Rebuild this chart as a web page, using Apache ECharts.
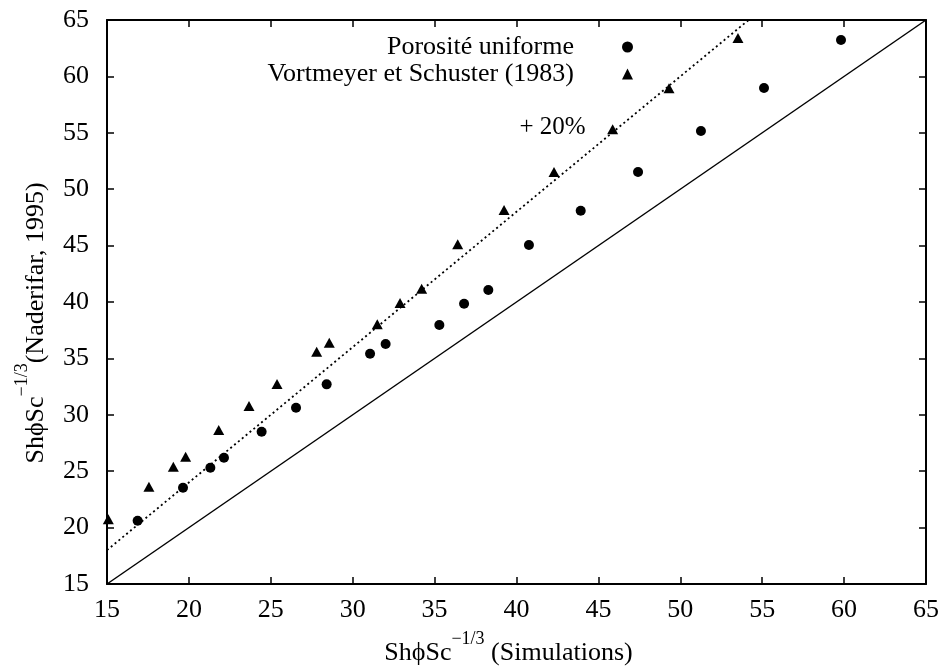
<!DOCTYPE html>
<html>
<head>
<meta charset="utf-8">
<script src="https://cdn.jsdelivr.net/npm/echarts@6/dist/echarts.min.js"></script>
<style>
  html, body { margin: 0; padding: 0; background: #fff; }
  #chart { width: 942px; height: 668px; }
</style>
</head>
<body>
<div id="chart"></div>
<script>
// valeurs
const poroX = [16.87, 19.64, 21.31, 22.14, 24.44, 26.54, 28.41, 31.06, 32.01, 35.29, 36.8, 38.28, 40.76, 43.92, 47.42, 51.26, 55.11, 59.81]
const poroY = [20.61, 23.54, 25.31, 26.2, 28.5, 30.63, 32.7, 35.42, 36.28, 37.96, 39.85, 41.06, 45.05, 48.09, 51.52, 55.16, 58.97, 63.23]
const vortX = [15.08, 17.56, 19.05, 19.8, 21.82, 23.67, 25.38, 27.8, 28.57, 31.5, 32.89, 34.21, 36.41, 39.24, 42.29, 45.87, 49.31, 53.52]
const vortY = [20.74, 23.63, 25.4, 26.29, 28.65, 30.78, 32.73, 35.59, 36.39, 38.02, 39.91, 41.18, 45.12, 48.16, 51.52, 55.31, 58.94, 63.4]
// droite y = x et droite +20 %
const parityX = [15, 65]
const parityY = [15, 65]
const plus20X = [15, 54.17]
const plus20Y = [18, 65]
const plus20Label = [42.2, 55.5]
const axisMin = 15
const axisMax = 65
const tickStep = 5

const font = 'Liberation Serif'
const zip = (xs, ys) => xs.map((x, i) => [x, ys[i]])

const richName = {
  a: { fontFamily: font, fontSize: 26, color: '#000', lineHeight: 36, verticalAlign: 'bottom' },
  sup: { fontFamily: font, fontSize: 18, color: '#000', lineHeight: 36, verticalAlign: 'top' },
}

const baseAxis = {
  type: 'value',
  min: axisMin,
  max: axisMax,
  interval: tickStep,
  splitLine: { show: false },
  axisLine: { show: true, onZero: false, lineStyle: { color: '#000', width: 2 } },
  axisTick: { show: true, inside: true, length: 7, lineStyle: { color: '#000', width: 1.5 } },
}

const mycharts = echarts.init(document.getElementById('chart'))
mycharts.setOption({
  animation: false,
  backgroundColor: '#fff',
  grid: { left: 107, right: 16, top: 20, bottom: 84, outerBoundsMode: 'none' },
  legend: {
    orient: 'vertical',
    align: 'right',
    right: 304,
    top: 29,
    itemGap: 1,
    itemWidth: 11,
    itemHeight: 11,
    data: ['Porosité uniforme', 'Vortmeyer et Schuster (1983)'],
    textStyle: { fontFamily: font, fontSize: 26, color: '#000', lineHeight: 26, padding: [0, 43, 0, 0] },
  },
  xAxis: [
    Object.assign({}, baseAxis, {
      position: 'bottom',
      name: '{a|ShϕSc}{sup|−1/3}{a| (Simulations)}',
      nameLocation: 'middle',
      nameGap: 46,
      nameTextStyle: { rich: richName, padding: [0, 16, 0, 0] },
      axisLabel: { fontFamily: font, fontSize: 26, color: '#000', margin: 13 },
    }),
    Object.assign({}, baseAxis, { position: 'top', axisLabel: { show: false } }),
  ],
  yAxis: [
    Object.assign({}, baseAxis, {
      position: 'left',
      name: '{a|ShϕSc}{sup|−1/3}{a|(Naderifar, 1995)}',
      nameLocation: 'middle',
      nameRotate: 90,
      nameGap: 58,
      nameTextStyle: { rich: richName, padding: [0, 42, 0, 0] },
      axisLabel: { fontFamily: font, fontSize: 26, color: '#000', margin: 18 },
    }),
    Object.assign({}, baseAxis, { position: 'right', axisLabel: { show: false } }),
  ],
  series: [
    {
      name: 'parity',
      type: 'line',
      data: zip(parityX, parityY),
      symbol: 'none',
      lineStyle: { color: '#000', width: 1.5 },
    },
    {
      name: 'plus20',
      type: 'line',
      data: zip(plus20X, plus20Y),
      symbol: 'none',
      lineStyle: { color: '#000', width: 1.8, type: [2, 3] },
      markPoint: {
        symbol: 'circle',
        symbolSize: 0,
        data: [{ coord: plus20Label }],
        label: {
          show: true,
          position: 'inside',
          formatter: '+ 20%',
          fontFamily: font,
          fontSize: 25,
          color: '#000',
        },
      },
    },
    {
      name: 'Porosité uniforme',
      type: 'scatter',
      data: zip(poroX, poroY),
      symbol: 'circle',
      symbolSize: 10,
      itemStyle: { color: '#000', opacity: 1 },
    },
    {
      name: 'Vortmeyer et Schuster (1983)',
      type: 'scatter',
      data: zip(vortX, vortY),
      symbol: 'triangle',
      symbolSize: [11, 10],
      itemStyle: { color: '#000', opacity: 1 },
    },
  ],
})
</script>
</body>
</html>
